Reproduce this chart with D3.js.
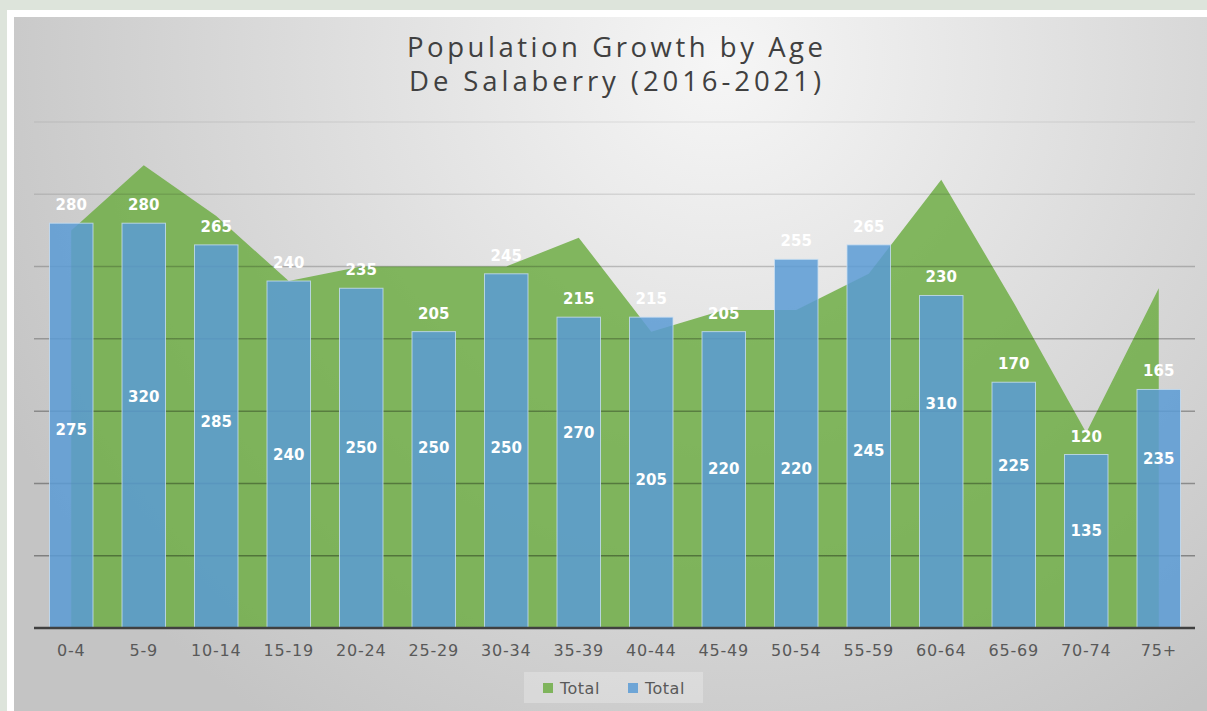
<!DOCTYPE html>
<html><head><meta charset="utf-8">
<script src="https://cdn.jsdelivr.net/npm/d3@7/dist/d3.min.js"></script>
<style>html,body{margin:0;padding:0;background:#dde4db;}svg{display:block;}</style>
</head><body>
<svg id="c" width="1207" height="711"></svg>
<script>
const categories = ["0-4","5-9","10-14","15-19","20-24","25-29","30-34","35-39","40-44","45-49","50-54","55-59","60-64","65-69","70-74","75+"];
const areaValues = [275,320,285,240,250,250,250,270,205,220,220,245,310,225,135,235];
const barValues  = [280,280,265,240,235,205,245,215,215,205,255,265,230,170,120,165];
const yTicks = [50,100,150,200,250,300,350];
const titleLines = ["Population Growth by Age","De Salaberry  (2016-2021)"];
const legendLabels = ["Total","Total"];

const svg = d3.select("#c");
const defs = svg.append("defs");
const rg = defs.append("radialGradient").attr("id","bg").attr("gradientUnits","userSpaceOnUse")
  .attr("cx",720).attr("cy",60).attr("r",800);
rg.append("stop").attr("offset","0").attr("stop-color","#f6f6f6");
rg.append("stop").attr("offset","1").attr("stop-color","#c4c4c4");

// frame
svg.append("rect").attr("x",7).attr("y",10).attr("width",1200).attr("height",701).attr("fill","#ffffff");
svg.append("rect").attr("x",14).attr("y",17).attr("width",1193).attr("height",694).attr("fill","url(#bg)");

const x = d3.scaleBand().domain(categories).range([35,1195]).paddingInner(0.4).paddingOuter(0.2);
const y = d3.scaleLinear().domain([0,350]).range([628,122]);
const cx = d => x(d) + x.bandwidth()/2;

// title
const title = svg.append("g").attr("font-family","'Open Sans', sans-serif").attr("fill","#404040").attr("font-size",27.5);
title.append("text").attr("x",615).attr("y",57).attr("text-anchor","middle").attr("textLength",416).attr("lengthAdjust","spacing").text(titleLines[0]);
title.append("text").attr("x",615).attr("y",91).attr("text-anchor","middle").attr("textLength",412).attr("lengthAdjust","spacing").text(titleLines[1]);

// area
const area = d3.area().x((d,i)=>cx(categories[i])).y0(y(0)).y1(d=>y(d)).curve(d3.curveLinear);
svg.append("path").datum(areaValues).attr("d",area).attr("fill","#70ad47").attr("fill-opacity",0.86);

// gridlines
const ga = d3.scaleLinear().domain([50,150,250,300,350]).range([0.35,0.3,0.2,0.1,0.06]);
svg.append("g").selectAll("line").data(yTicks).join("line")
  .attr("x1",34).attr("x2",1195).attr("y1",d=>y(d)).attr("y2",d=>y(d))
  .attr("stroke","#000").attr("stroke-opacity",d=>ga(d)).attr("stroke-width",1.5);

// bars
svg.append("g").selectAll("rect").data(barValues).join("rect")
  .attr("x",(d,i)=>x(categories[i])).attr("width",x.bandwidth())
  .attr("y",d=>y(d)).attr("height",d=>y(0)-y(d))
  .attr("fill","#5b9bd5").attr("fill-opacity",0.85)
  .attr("stroke","#c8def2").attr("stroke-opacity",0.8).attr("stroke-width",1);

// axis baseline
const xAxis = svg.append("g").attr("transform",`translate(0,${y(0)})`)
  .call(d3.axisBottom(x).tickSize(0).tickPadding(17));
xAxis.select(".domain").remove();
xAxis.append("line").attr("x1",34).attr("x2",1195).attr("stroke","#404040").attr("stroke-width",2.5);
xAxis.selectAll("text").attr("font-family","'DejaVu Sans', sans-serif").attr("font-size",16)
  .attr("fill","#595959").attr("letter-spacing","0.8px");

// labels
const lab = svg.append("g").attr("font-family","'DejaVu Sans', sans-serif").attr("font-weight","bold")
  .attr("font-size",15).attr("fill","#ffffff").attr("text-anchor","middle");
lab.selectAll("text.b").data(barValues).join("text").attr("class","b")
  .attr("x",(d,i)=>cx(categories[i])).attr("y",d=>y(d)-13).text(d=>d);
lab.selectAll("text.a").data(areaValues).join("text").attr("class","a")
  .attr("x",(d,i)=>cx(categories[i])).attr("y",d=>y(d/2)+5.5).text(d=>d);

// legend
const lg = svg.append("g");
lg.append("rect").attr("x",524).attr("y",672).attr("width",179).attr("height",31).attr("fill","#ffffff").attr("fill-opacity",0.25);
const items = [{c:"#70ad47",o:0.86,x:543},{c:"#5b9bd5",o:0.85,x:628}];
items.forEach((it,i)=>{
  lg.append("rect").attr("x",it.x).attr("y",683).attr("width",10).attr("height",10).attr("fill",it.c).attr("fill-opacity",it.o);
  lg.append("text").attr("x",it.x+17).attr("y",694).attr("font-family","'DejaVu Sans', sans-serif")
    .attr("font-size",16).attr("fill","#595959").attr("letter-spacing","0.5px").text(legendLabels[i]);
});
</script>
</body></html>
